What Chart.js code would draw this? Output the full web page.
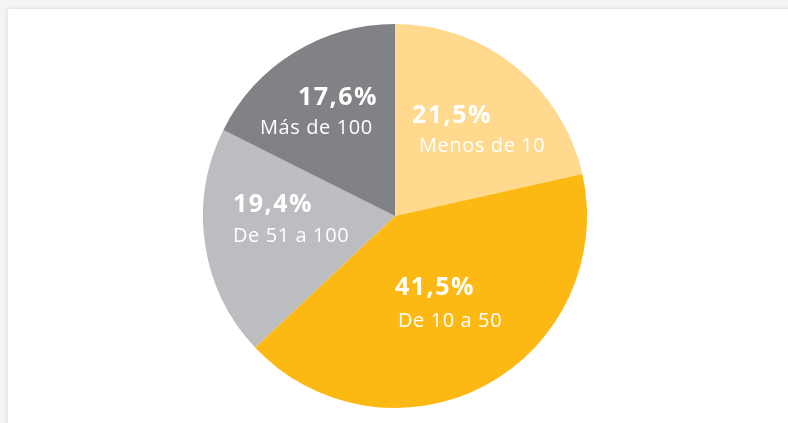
<!DOCTYPE html>
<html>
<head>
<meta charset="utf-8">
<script src="https://cdn.jsdelivr.net/npm/chart.js@4.4.1/dist/chart.umd.min.js"></script>
<style>
  html, body { margin: 0; padding: 0; }
  body { width: 788px; height: 423px; background: #f4f4f4; overflow: hidden; position: relative; }
  .card { position: absolute; left: 8px; top: 9px; width: 800px; height: 430px; background: #fff;
          box-shadow: 0 0 5px rgba(0,0,0,0.12); }
  .pie-box { position: absolute; left: 203px; top: 24px; width: 384px; height: 384px; }
</style>
</head>
<body>
<div class="card"></div>
<div class="pie-box"><canvas id="myChart"></canvas></div>
<script>
// Data
const categories = ['Menos de 10', 'De 10 a 50', 'De 51 a 100', 'Más de 100']
const shares = [21.5, 41.5, 19.4, 17.6]
const sliceColors = ['#fed98e', '#fdb913', '#bcbdc0', '#808285']

// label placement, offsets from pie centre (percent line, category line)
const labelSpots = [
    { p: [17, -93], c: [24, -64] },
    { p: [0, 79], c: [3, 111] },
    { p: [-162, -4], c: [-162, 26] },
    { p: [-97, -111], c: [-135, -82] },
]

const fmt = v => v.toFixed(1).replace('.', ',') + '%'

const sliceLabels = {
    id: 'sliceLabels',
    afterDatasetsDraw(chart) {
        const ctx = chart.ctx
        const arcs = chart.getDatasetMeta(0).data
        ctx.save()
        ctx.fillStyle = '#ffffff'
        ctx.textAlign = 'left'
        ctx.textBaseline = 'alphabetic'
        arcs.forEach((arc, i) => {
            const spot = labelSpots[i]
            ctx.font = 'bold 25px "Open Sans"'
            ctx.letterSpacing = '1.5px'
            ctx.fillText(fmt(shares[i]), arc.x + spot.p[0], arc.y + spot.p[1])
            ctx.font = '20px "Open Sans"'
            ctx.letterSpacing = '0.6px'
            ctx.fillText(categories[i], arc.x + spot.c[0], arc.y + spot.c[1])
        })
        ctx.restore()
    }
}

let myChart = document.getElementById('myChart')
let pieChart = new Chart(myChart, {
    type: 'pie',
    data: {
        labels: categories,
        datasets: [{
            data: shares,
            backgroundColor: sliceColors,
            borderWidth: 0,
        }]
    },
    options: {
        responsive: true,
        maintainAspectRatio: false,
        animation: false,
        layout: { padding: 0 },
        plugins: {
            legend: { display: false },
            tooltip: { enabled: false },
        }
    },
    plugins: [sliceLabels]
})
</script>
</body>
</html>
